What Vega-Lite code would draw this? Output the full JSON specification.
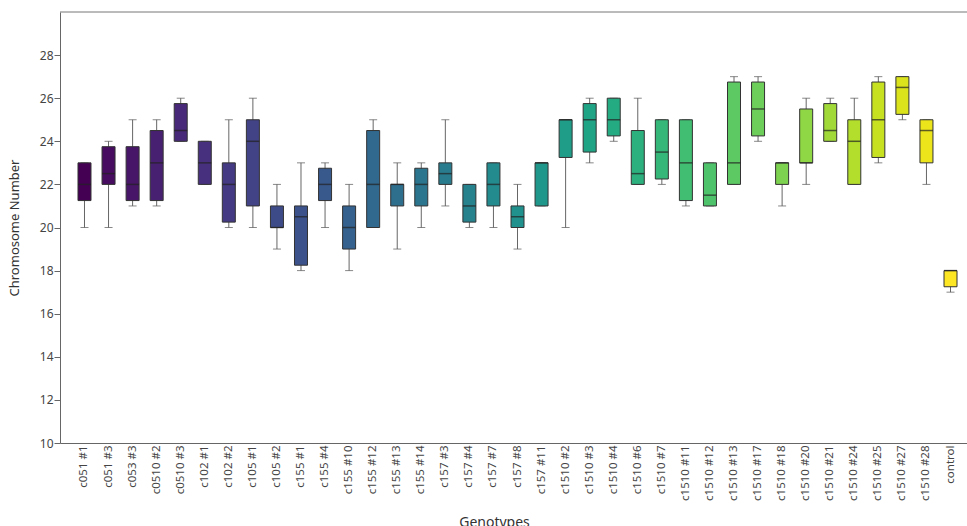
{
  "$schema": "https://vega.github.io/schema/vega-lite/v6.json",
  "width": 907,
  "height": 431,
  "autosize": {"type": "none"},
  "padding": {"left": 60, "top": 12, "right": 0, "bottom": 83},
  "background": "white",
  "config": {"view": {"stroke": null}, "font": "Noto Sans"},
  "data": {"values": [
    {"g": "c051 #1", "idx": 0, "mn": 20, "q1": 21.25, "md": 22, "q3": 23, "mx": 23},
    {"g": "c051 #3", "idx": 1, "mn": 20, "q1": 22, "md": 22.5, "q3": 23.75, "mx": 24},
    {"g": "c053 #3", "idx": 2, "mn": 21, "q1": 21.25, "md": 22, "q3": 23.75, "mx": 25},
    {"g": "c0510 #2", "idx": 3, "mn": 21, "q1": 21.25, "md": 23, "q3": 24.5, "mx": 25},
    {"g": "c0510 #3", "idx": 4, "mn": 24, "q1": 24, "md": 24.5, "q3": 25.75, "mx": 26},
    {"g": "c102 #1", "idx": 5, "mn": 22, "q1": 22, "md": 23, "q3": 24, "mx": 24},
    {"g": "c102 #2", "idx": 6, "mn": 20, "q1": 20.25, "md": 22, "q3": 23, "mx": 25},
    {"g": "c105 #1", "idx": 7, "mn": 20, "q1": 21, "md": 24, "q3": 25, "mx": 26},
    {"g": "c105 #2", "idx": 8, "mn": 19, "q1": 20, "md": 20, "q3": 21, "mx": 22},
    {"g": "c155 #1", "idx": 9, "mn": 18, "q1": 18.25, "md": 20.5, "q3": 21, "mx": 23},
    {"g": "c155 #4", "idx": 10, "mn": 20, "q1": 21.25, "md": 22, "q3": 22.75, "mx": 23},
    {"g": "c155 #10", "idx": 11, "mn": 18, "q1": 19, "md": 20, "q3": 21, "mx": 22},
    {"g": "c155 #12", "idx": 12, "mn": 20, "q1": 20, "md": 22, "q3": 24.5, "mx": 25},
    {"g": "c155 #13", "idx": 13, "mn": 19, "q1": 21, "md": 22, "q3": 22, "mx": 23},
    {"g": "c155 #14", "idx": 14, "mn": 20, "q1": 21, "md": 22, "q3": 22.75, "mx": 23},
    {"g": "c157 #3", "idx": 15, "mn": 21, "q1": 22, "md": 22.5, "q3": 23, "mx": 25},
    {"g": "c157 #4", "idx": 16, "mn": 20, "q1": 20.25, "md": 21, "q3": 22, "mx": 22},
    {"g": "c157 #7", "idx": 17, "mn": 20, "q1": 21, "md": 22, "q3": 23, "mx": 23},
    {"g": "c157 #8", "idx": 18, "mn": 19, "q1": 20, "md": 20.5, "q3": 21, "mx": 22},
    {"g": "c157 #11", "idx": 19, "mn": 21, "q1": 21, "md": 23, "q3": 23, "mx": 23},
    {"g": "c1510 #2", "idx": 20, "mn": 20, "q1": 23.25, "md": 25, "q3": 25, "mx": 25},
    {"g": "c1510 #3", "idx": 21, "mn": 23, "q1": 23.5, "md": 25, "q3": 25.75, "mx": 26},
    {"g": "c1510 #4", "idx": 22, "mn": 24, "q1": 24.25, "md": 25, "q3": 26, "mx": 26},
    {"g": "c1510 #6", "idx": 23, "mn": 22, "q1": 22, "md": 22.5, "q3": 24.5, "mx": 26},
    {"g": "c1510 #7", "idx": 24, "mn": 22, "q1": 22.25, "md": 23.5, "q3": 25, "mx": 25},
    {"g": "c1510 #11", "idx": 25, "mn": 21, "q1": 21.25, "md": 23, "q3": 25, "mx": 25},
    {"g": "c1510 #12", "idx": 26, "mn": 21, "q1": 21, "md": 21.5, "q3": 23, "mx": 23},
    {"g": "c1510 #13", "idx": 27, "mn": 22, "q1": 22, "md": 23, "q3": 26.75, "mx": 27},
    {"g": "c1510 #17", "idx": 28, "mn": 24, "q1": 24.25, "md": 25.5, "q3": 26.75, "mx": 27},
    {"g": "c1510 #18", "idx": 29, "mn": 21, "q1": 22, "md": 23, "q3": 23, "mx": 23},
    {"g": "c1510 #20", "idx": 30, "mn": 22, "q1": 23, "md": 23, "q3": 25.5, "mx": 26},
    {"g": "c1510 #21", "idx": 31, "mn": 24, "q1": 24, "md": 24.5, "q3": 25.75, "mx": 26},
    {"g": "c1510 #24", "idx": 32, "mn": 22, "q1": 22, "md": 24, "q3": 25, "mx": 26},
    {"g": "c1510 #25", "idx": 33, "mn": 23, "q1": 23.25, "md": 25, "q3": 26.75, "mx": 27},
    {"g": "c1510 #27", "idx": 34, "mn": 25, "q1": 25.25, "md": 26.5, "q3": 27, "mx": 27},
    {"g": "c1510 #28", "idx": 35, "mn": 22, "q1": 23, "md": 24.5, "q3": 25, "mx": 25},
    {"g": "control", "idx": 36, "mn": 17, "q1": 17.25, "md": 18, "q3": 18, "mx": 18}
  ]},
  "layer": [
    {
      "data": {"values": [{"top": 30}]},
      "mark": {"type": "rule", "color": "#777", "strokeWidth": 1},
      "encoding": {"y": {"field": "top", "type": "quantitative", "scale": {"domain": [10, 30]}}}
    },
    {
      "encoding": {
        "x": {
          "field": "g", "type": "nominal", "sort": null,
          "scale": {"range": [0, 915], "paddingInner": 0, "paddingOuter": 0.518},
          "axis": {
            "title": "Genotypes", "labelAngle": -90, "ticks": false, "labelPadding": 2,
            "labelFontSize": 11.5, "labelColor": "#444", "domainColor": "#666",
            "titleFontSize": 14, "titleFontWeight": "normal", "titleColor": "#333", "titlePadding": 15,
            "titleX": 434
          }
        }
      },
      "layer": [
        {
          "mark": {"type": "rule", "color": "#666", "strokeWidth": 1},
          "encoding": {
            "y": {
              "field": "mn", "type": "quantitative",
              "scale": {"domain": [10, 30], "nice": false, "zero": false},
              "axis": {
                "title": "Chromosome Number", "values": [10, 12, 14, 16, 18, 20, 22, 24, 26, 28],
                "grid": false, "tickSize": 6, "tickColor": "#666", "domainColor": "#666",
                "labelPadding": 1, "labelFontSize": 12, "labelColor": "#444",
                "titleFontSize": 13, "titleFontWeight": "normal", "titleColor": "#333", "titlePadding": 18
              }
            },
            "y2": {"field": "mx"}
          }
        },
        {
          "mark": {"type": "tick", "color": "#555", "size": 8, "thickness": 1},
          "encoding": {"y": {"field": "mn", "type": "quantitative"}}
        },
        {
          "mark": {"type": "tick", "color": "#555", "size": 8, "thickness": 1},
          "encoding": {"y": {"field": "mx", "type": "quantitative"}}
        },
        {
          "mark": {"type": "bar", "size": 13, "stroke": "#333", "strokeWidth": 1, "fillOpacity": 1},
          "encoding": {
            "y": {"field": "q1", "type": "quantitative"},
            "y2": {"field": "q3"},
            "color": {"field": "idx", "type": "quantitative", "scale": {"scheme": "viridis"}, "legend": null}
          }
        },
        {
          "mark": {"type": "tick", "color": "#222", "size": 13, "thickness": 1.5},
          "encoding": {"y": {"field": "md", "type": "quantitative"}}
        }
      ]
    }
  ]
}
